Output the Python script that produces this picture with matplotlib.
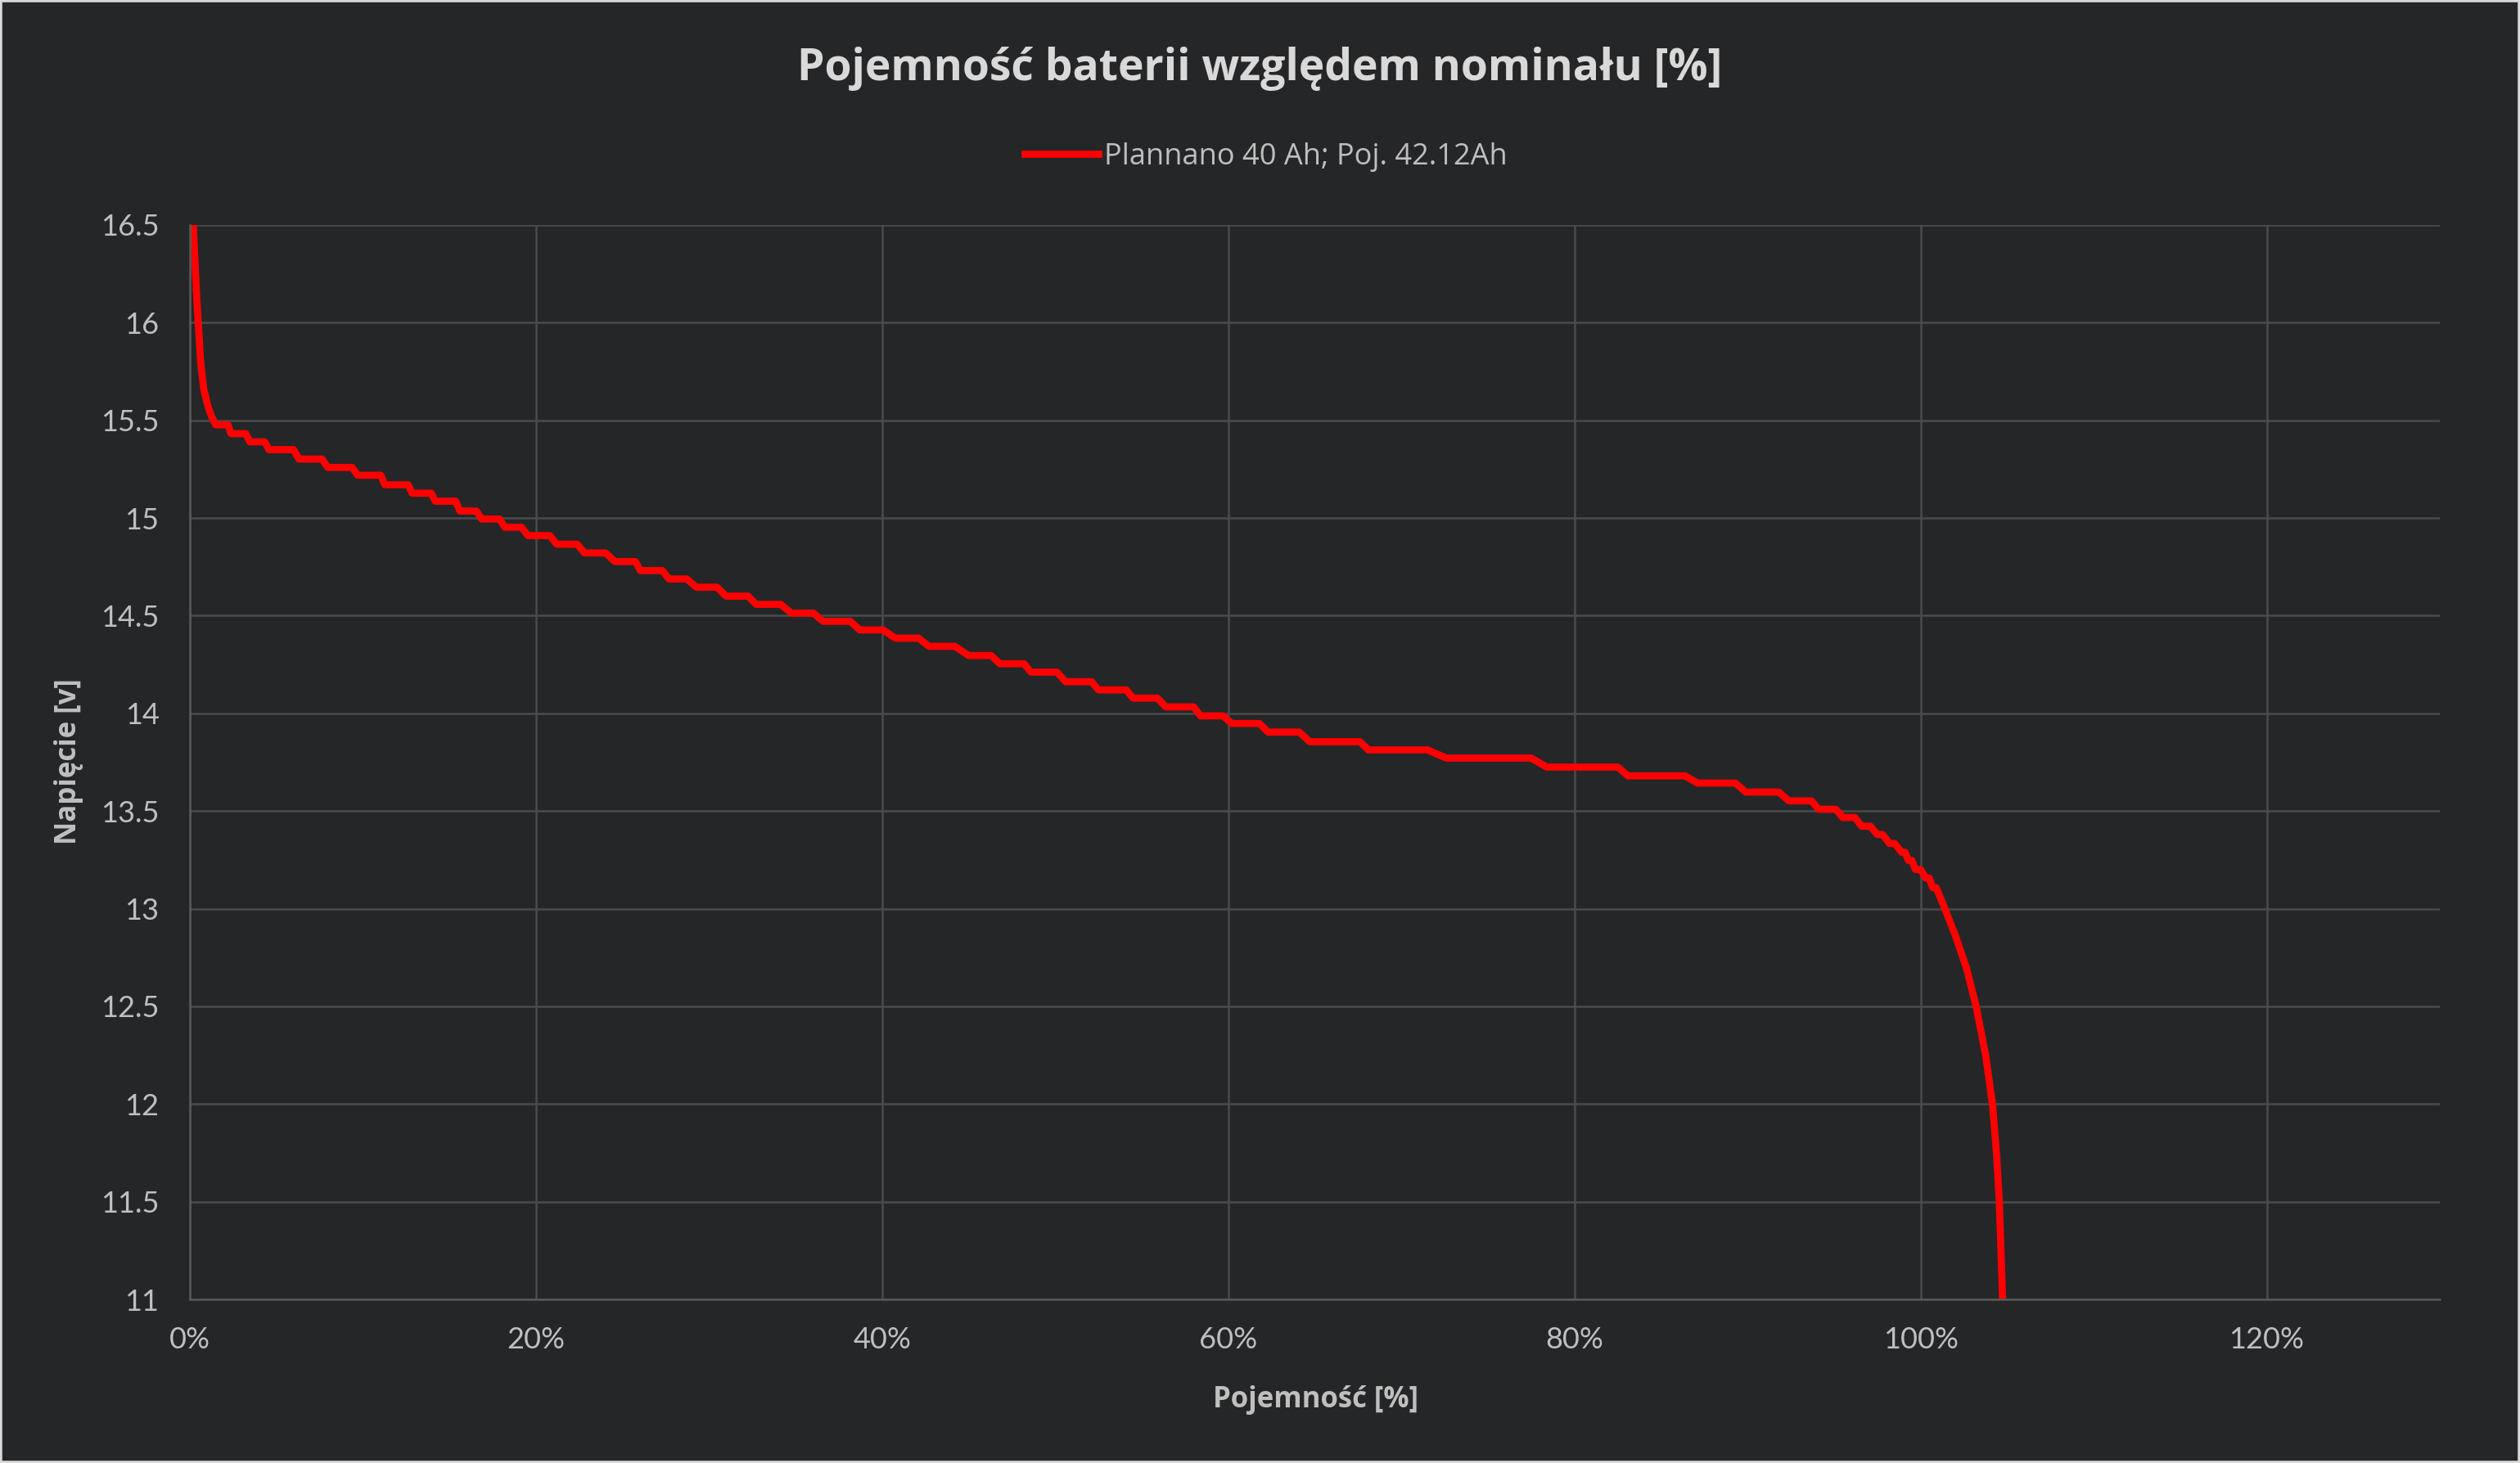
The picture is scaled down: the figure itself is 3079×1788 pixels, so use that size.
import numpy as np
import matplotlib.pyplot as plt
from matplotlib.patches import Rectangle
from matplotlib.ticker import MultipleLocator, FuncFormatter

# Odczyt z wykresu: pojemnosc [%] i napiecie [V]
# poczatkowy spadek napiecia
head_x = [0.20, 0.30, 0.40, 0.52, 0.62, 0.80, 1.05, 1.25]
head_v = [16.50, 16.30, 16.12, 15.95, 15.80, 15.66, 15.57, 15.52]

# schodki: poczatek, koniec, napiecie
step_start = [1.50, 2.37, 3.47, 4.57, 6.30, 7.96, 9.69, 11.27, 12.84, 14.18,
              15.60, 16.86, 18.20, 19.54, 21.19, 22.80, 24.56, 26.03, 27.68, 29.26,
              30.99, 32.72, 34.77, 36.58, 38.71, 40.76, 42.70, 45.0, 46.8, 48.6,
              50.6, 52.5, 54.5, 56.4, 58.4, 60.2, 62.3, 64.7, 68.1, 72.6,
              78.4, 83.1, 87.1, 89.9, 92.4, 94.1, 95.5, 96.6, 97.5, 98.2,
              98.9, 99.3, 99.7, 100.3, 100.7]
step_end = [2.21, 3.23, 4.33, 5.99, 7.64, 9.38, 11.03, 12.61, 13.95, 15.36,
            16.55, 17.89, 19.15, 20.80, 22.38, 24.02, 25.74, 27.30, 28.71, 30.45,
            32.25, 34.13, 36.03, 38.16, 40.05, 42.10, 44.20, 46.3, 48.2, 50.1,
            52.1, 54.1, 55.9, 58.0, 59.7, 61.8, 64.1, 67.6, 71.5, 77.5,
            82.5, 86.4, 89.3, 91.8, 93.7, 95.1, 96.2, 97.1, 97.8, 98.5,
            99.1, 99.5, 100.0, 100.5, 100.9]
step_volt = [15.477, 15.432, 15.390, 15.350, 15.302, 15.259, 15.219, 15.170, 15.127, 15.086,
             15.036, 14.995, 14.953, 14.910, 14.866, 14.821, 14.777, 14.731, 14.688, 14.646,
             14.600, 14.558, 14.513, 14.471, 14.427, 14.385, 14.343, 14.296, 14.254, 14.211,
             14.162, 14.120, 14.078, 14.033, 13.987, 13.948, 13.904, 13.855, 13.813, 13.771,
             13.725, 13.680, 13.643, 13.597, 13.552, 13.509, 13.467, 13.422, 13.380, 13.334,
             13.289, 13.247, 13.201, 13.157, 13.108]

# koncowy spadek
tail_x = [101.1, 101.4, 102.03, 102.66, 103.21, 103.77, 104.16, 104.40, 104.55, 104.74]
tail_v = [13.066, 13.0, 12.858, 12.693, 12.5, 12.244, 11.994, 11.731, 11.5, 11.0]

x = list(head_x)
v = list(head_v)
for s, e, u in zip(step_start, step_end, step_volt):
    x += [s, e]
    v += [u, u]
x += tail_x
v += tail_v
x = np.array(x) / 100
v = np.array(v)

bg = "#252628"
fig = plt.figure(figsize=(30.79, 17.88), dpi=100, facecolor=bg)
ax = fig.add_axes([232 / 3079, 1 - 1588 / 1788, (2981 - 232) / 3079, (1588 - 275) / 1788])
ax.set_facecolor(bg)

ax.plot(x, v, color="#ff0000", linewidth=6.3, solid_joinstyle="round",
        label="Plannano 40 Ah; Poj. 42.12Ah")

ax.set_xlim(0, 1.3)
ax.set_ylim(11, 16.5)
ax.xaxis.set_major_locator(MultipleLocator(0.2))
ax.yaxis.set_major_locator(MultipleLocator(0.5))
ax.xaxis.set_major_formatter(FuncFormatter(lambda val, p: "{:.0f}%".format(val * 100)))
ax.yaxis.set_major_formatter(FuncFormatter(lambda val, p: "{:g}".format(val)))
ax.grid(True, color="#4b4b4b", linewidth=1.8)
ax.set_axisbelow(True)
for side in ["top", "right"]:
    ax.spines[side].set_visible(False)
for side in ["left", "bottom"]:
    ax.spines[side].set_color("#595959")
    ax.spines[side].set_linewidth(1.8)
ax.tick_params(length=0, labelsize=26, labelcolor="#bfbfbf")
ax.tick_params(axis="y", pad=27)
ax.tick_params(axis="x", pad=24)
for lab in ax.get_xticklabels() + ax.get_yticklabels():
    lab.set_family("Lato")

fig.text(0.5, 1 - 84 / 1788, "Pojemność baterii względem nominału [%]", ha="center", va="center",
         fontsize=38.5, fontweight="bold", color="#d9d9d9", family="Open Sans")
fig.text(1607 / 3079, 1 - 1711 / 1788, "Pojemność [%]", ha="center", va="center",
         fontsize=25, fontweight="bold", color="#bfbfbf", family="Open Sans")
fig.text(84 / 3079, 1 - 931 / 1788, "Napięcie [v]", ha="center", va="center", rotation=90,
         fontsize=25, fontweight="bold", color="#bfbfbf", family="Open Sans")

leg = fig.legend(loc="center", bbox_to_anchor=(0.5024, 1 - 192 / 1788), frameon=False,
                 prop={"family": "Open Sans", "size": 26}, handlelength=2.5, handletextpad=0.2)
for t in leg.get_texts():
    t.set_color("#bfbfbf")

# ramka wokol obrazka
fig.patches.append(Rectangle((0, 0), 1, 1, transform=fig.transFigure, fill=False,
                             edgecolor="#d9d9d9", linewidth=4))

fig.savefig("out.png", dpi=100, facecolor=bg)
